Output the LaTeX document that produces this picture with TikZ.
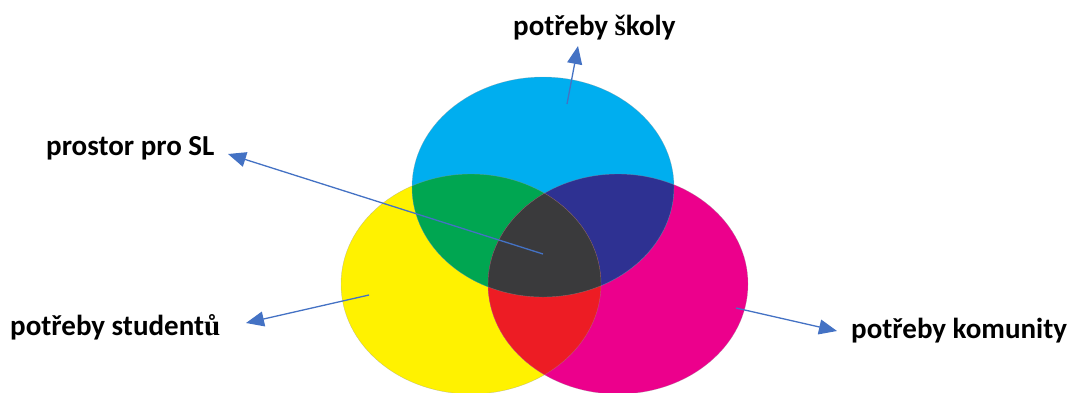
\documentclass[tikz,border=0pt]{standalone}
\usepackage{fontspec}
\setmainfont{Carlito}
\newfontfamily\altserif{Liberation Serif}
\usetikzlibrary{arrows.meta}
\definecolor{cyanC}{HTML}{00AEEF}
\definecolor{yellowC}{HTML}{FFF200}
\definecolor{magentaC}{HTML}{EC008C}
\definecolor{greenC}{HTML}{00A651}
\definecolor{blueC}{HTML}{2E3192}
\definecolor{redC}{HTML}{ED1C24}
\definecolor{darkC}{HTML}{3A3A3C}
\definecolor{arrowC}{HTML}{4472C4}
\tikzset{
  lbl/.style={font=\fontsize{29}{34}\selectfont\bfseries, inner sep=0pt, anchor=base west},
  conn/.style={draw=arrowC, line width=1.3pt, -{Triangle[length=18pt,width=15pt]}},
}
\begin{document}
\begin{tikzpicture}[x=1pt,y=-1pt]
\useasboundingbox (0,0) rectangle (1073,392);
% ellipses
\def\cyanE{(543,187) ellipse [x radius=131, y radius=110]}
\def\yelE{(471,284) ellipse [x radius=130, y radius=110]}
\def\magE{(618,284) ellipse [x radius=130, y radius=110]}
\fill[yellowC] \yelE;
\fill[magentaC] \magE;
\fill[cyanC] \cyanE;
\begin{scope}\clip \cyanE; \fill[greenC] \yelE; \fill[blueC] \magE; \end{scope}
\begin{scope}\clip \yelE; \fill[redC] \magE; \end{scope}
\begin{scope}\clip \cyanE; \clip \yelE; \fill[darkC] \magE; \end{scope}
\draw[black!40, line width=0.4pt, opacity=0.5] \yelE \magE \cyanE;
% labels
\node[lbl] (skoly) at (513,35) {potřeby {\altserif š}koly};
\node[lbl] (prostor) at (46,155) {prostor pro SL};
\node[lbl] (studentu) at (10,335) {potřeby student{\altserif ů}};
\node[lbl] (komunity) at (851,338) {potřeby komunity};
% connector ends
\coordinate (sA) at (567,104);
\coordinate (tA) at (578,46);
\coordinate (sB) at (543,254);
\coordinate (tB) at (228,154);
\coordinate (sC) at (369,295);
\coordinate (tC) at (246,323);
\coordinate (sD) at (736,308);
\coordinate (tD) at (837,331);
\draw[conn] (sA) -- (tA);
\draw[conn] (sB) -- (tB);
\draw[conn] (sC) -- (tC);
\draw[conn] (sD) -- (tD);
\end{tikzpicture}
\end{document}
